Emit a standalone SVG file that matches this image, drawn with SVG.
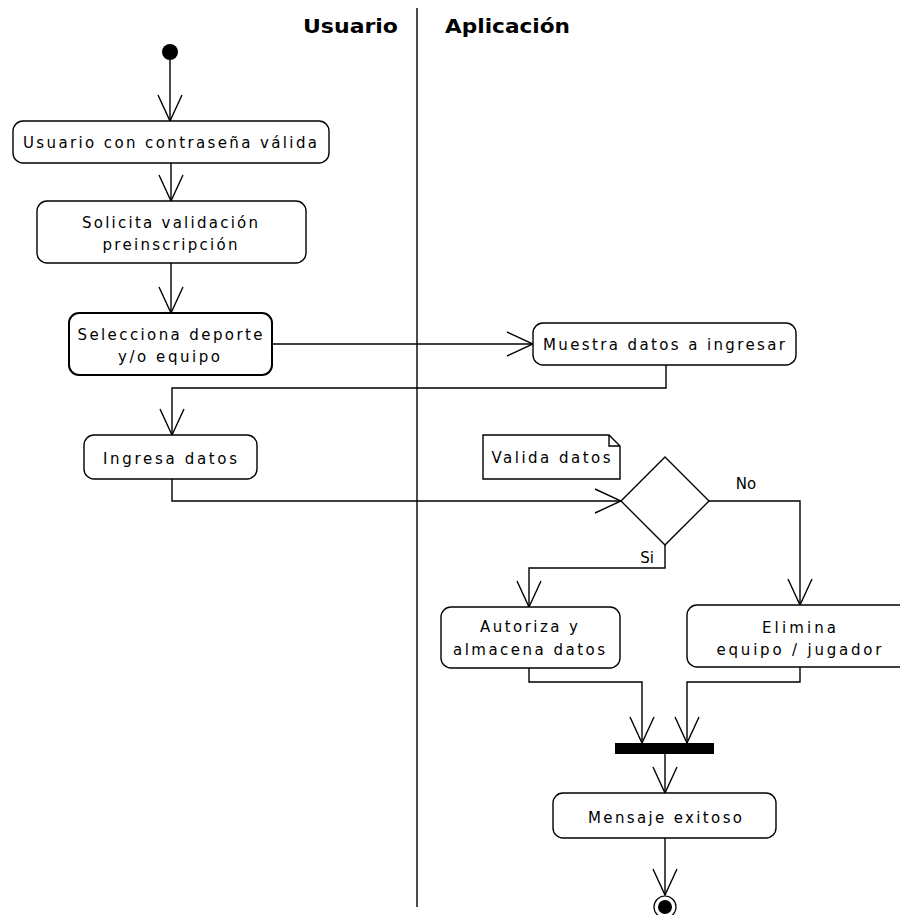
<svg xmlns="http://www.w3.org/2000/svg" width="900" height="915" viewBox="0 0 900 915">
<defs>
<style>
.node rect{fill:#fff;stroke:#000;stroke-width:1.4}
.t{font-family:"DejaVu Sans","Liberation Sans",sans-serif;font-size:15px;fill:#000;text-anchor:middle}
.h{font-family:"DejaVu Sans","Liberation Sans",sans-serif;font-size:19px;font-weight:bold;fill:#000}
.c{fill:none;stroke:#000;stroke-width:1.4}
</style>
<marker id="arr" viewBox="0 0 28 26" refX="27" refY="13" markerWidth="28" markerHeight="26" markerUnits="userSpaceOnUse" orient="auto">
<path d="M1,1 L27,13 L1,25" fill="none" stroke="#000" stroke-width="1.4"/>
</marker>
</defs>
<rect width="900" height="915" fill="#fff"/>
<g id="lanes">
<line x1="417" y1="8" x2="417" y2="907" stroke="#000" stroke-width="1.4"/>
<text class="h" x="303" y="33" textLength="95" lengthAdjust="spacingAndGlyphs">Usuario</text>
<text class="h" x="445" y="33" textLength="125" lengthAdjust="spacingAndGlyphs">Aplicación</text>
</g>
<g id="connectors">
<path class="c" d="M170,60 L170,121" marker-end="url(#arr)"/>
<path class="c" d="M171,163 L171,201" marker-end="url(#arr)"/>
<path class="c" d="M171,263 L171,313" marker-end="url(#arr)"/>
<path class="c" d="M272,344 L533,344" marker-end="url(#arr)"/>
<path class="c" d="M666,365 L666,388 L172,388 L172,435" marker-end="url(#arr)"/>
<path class="c" d="M172,479 L172,501 L621,501" marker-end="url(#arr)"/>
<path class="c" d="M708,501 L800,501 L800,605" marker-end="url(#arr)"/>
<path class="c" d="M665,545 L665,568 L529,568 L529,607" marker-end="url(#arr)"/>
<path class="c" d="M529,668 L529,682 L642,682 L642,743" marker-end="url(#arr)"/>
<path class="c" d="M800,667 L800,682 L687,682 L687,743" marker-end="url(#arr)"/>
<path class="c" d="M665,754 L665,793" marker-end="url(#arr)"/>
<path class="c" d="M665,838 L665,895" marker-end="url(#arr)"/>
<text class="t" x="746" y="489">No</text>
<text class="t" x="647" y="563">Si</text>
</g>
<g id="start"><circle cx="170" cy="52" r="8" fill="#000"/></g>
<g id="n1" class="node"><rect x="13" y="121" width="316" height="42" rx="10"/><text class="t" x="170" y="148" textLength="294" lengthAdjust="spacing">Usuario con contraseña válida</text></g>
<g id="n2" class="node"><rect x="37" y="201" width="269" height="62" rx="10"/><text class="t" x="170" y="228" textLength="176" lengthAdjust="spacing">Solicita validación</text><text class="t" x="170" y="250" textLength="135" lengthAdjust="spacing">preinscripción</text></g>
<g id="n3" class="node"><rect x="69" y="313" width="203" height="62" rx="10" style="stroke-width:2"/><text class="t" x="170" y="340" textLength="185" lengthAdjust="spacing">Selecciona deporte</text><text class="t" x="169" y="362" textLength="102" lengthAdjust="spacing">y/o equipo</text></g>
<g id="n4" class="node"><rect x="533" y="323" width="263" height="42" rx="10"/><text class="t" x="664" y="350" textLength="242" lengthAdjust="spacing">Muestra datos a ingresar</text></g>
<g id="n5" class="node"><rect x="84" y="435" width="173" height="44" rx="10"/><text class="t" x="170" y="464" textLength="134" lengthAdjust="spacing">Ingresa datos</text></g>
<g id="note"><path d="M483,435 L609,435 L620,446 L620,479 L483,479 Z M609,435 L609,446 L620,446" fill="#fff" stroke="#000" stroke-width="1.4"/><text class="t" x="551" y="463" textLength="119" lengthAdjust="spacing">Valida datos</text></g>
<g id="decision"><path d="M665,457 L709,501 L665,545 L621,501 Z" fill="#fff" stroke="#000" stroke-width="1.4"/></g>
<g id="n6" class="node"><rect x="441" y="607" width="179" height="61" rx="10"/><text class="t" x="529" y="632" textLength="98" lengthAdjust="spacing">Autoriza y</text><text class="t" x="529" y="655" textLength="152" lengthAdjust="spacing">almacena datos</text></g>
<g id="n7" class="node"><rect x="687" y="605" width="224" height="62" rx="10"/><text class="t" x="799" y="633" textLength="74" lengthAdjust="spacing">Elimina</text><text class="t" x="799" y="655" textLength="165" lengthAdjust="spacing">equipo / jugador</text></g>
<g id="join"><rect x="615" y="743" width="99" height="11" fill="#000"/></g>
<g id="n8" class="node"><rect x="553" y="793" width="223" height="45" rx="10"/><text class="t" x="665" y="823" textLength="154" lengthAdjust="spacing">Mensaje exitoso</text></g>
<g id="end"><circle cx="665" cy="907" r="11" fill="#fff" stroke="#000" stroke-width="1.2"/><circle cx="665" cy="907" r="7" fill="#000"/></g>
</svg>
